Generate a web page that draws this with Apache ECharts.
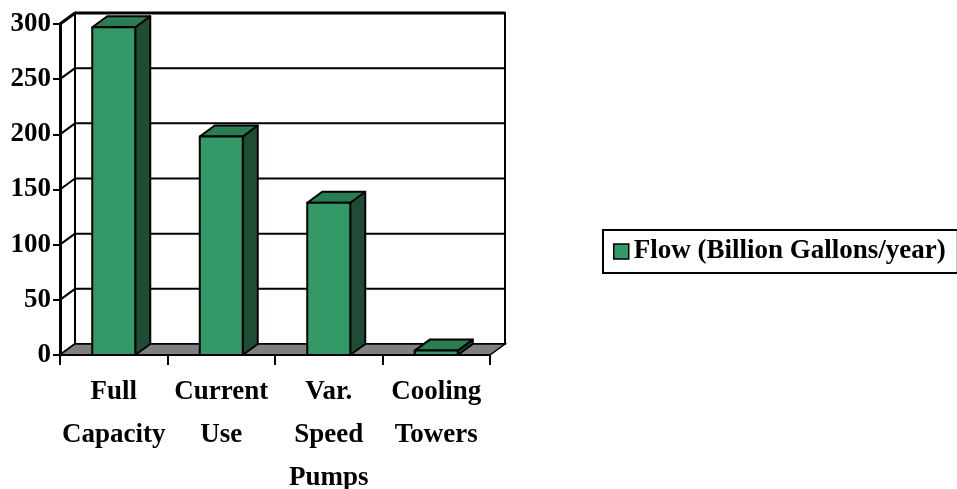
<!DOCTYPE html>
<html>
<head>
<meta charset="utf-8">
<script src="https://cdn.jsdelivr.net/npm/echarts@6/dist/echarts.min.js"></script>
<style>
html,body{margin:0;padding:0;background:#fff;}
#chart{width:957px;height:489px;}
</style>
</head>
<body>
<div id="chart"></div>
<script>
var categories = ['Full\nCapacity', 'Current\nUse', 'Var.\nSpeed\nPumps', 'Cooling\nTowers'];
var flowValues = [297, 198, 138, 4];
var seriesName = 'Flow (Billion Gallons/year)';
var yTicks = [0, 50, 100, 150, 200, 250, 300];

var DX = 15, DY = -11;
var FRONT = '#339966', TOP = '#2a7d53', SIDE = '#1f4d34';
var FONT = '"Liberation Serif", "Times New Roman", serif';

var chart = echarts.init(document.getElementById('chart'));

function frameRender(params, api) {
  var cs = params.coordSys;
  var x0 = cs.x, x1 = cs.x + cs.width;
  var yb = api.coord([0, 0])[1];
  var yt = api.coord([0, yTicks[yTicks.length - 1]])[1];
  var children = [];
  children.push({type: 'rect', shape: {x: x0 + DX, y: yt + DY, width: x1 - x0, height: yb - yt},
    style: {fill: '#fff', stroke: '#000', lineWidth: 2}});
  children.push({type: 'polygon', shape: {points: [[x0, yt], [x0 + DX, yt + DY], [x0 + DX, yb + DY], [x0, yb]]},
    style: {fill: '#fff', stroke: '#000', lineWidth: 2}});
  for (var k = 0; k < yTicks.length; k++) {
    var y = api.coord([0, yTicks[k]])[1];
    var lw = (k === yTicks.length - 1) ? 3 : 2;
    children.push({type: 'line', shape: {x1: x0, y1: y, x2: x0 + DX, y2: y + DY}, style: {stroke: '#000', lineWidth: lw}});
    children.push({type: 'line', shape: {x1: x0 + DX, y1: y + DY, x2: x1 + DX, y2: y + DY}, style: {stroke: '#000', lineWidth: lw}});
  }
  children.push({type: 'polygon', shape: {points: [[x0, yb], [x1, yb], [x1 + DX, yb + DY], [x0 + DX, yb + DY]]},
    style: {fill: '#808080', stroke: '#000', lineWidth: 1.5}});
  return {type: 'group', children: children};
}

function barRender(params, api) {
  var i = api.value(0), v = api.value(1);
  var t = api.coord([i, v]);
  var b = api.coord([i, 0]);
  var w = api.size([1, 0])[0] * 0.4;
  var xl = t[0] - w / 2, xr = t[0] + w / 2, yt = t[1], yb = b[1];
  var st = {stroke: '#000', lineWidth: 2, lineJoin: 'round'};
  return {type: 'group', children: [
    {type: 'polygon', shape: {points: [[xr, yt], [xr + DX, yt + DY], [xr + DX, yb + DY], [xr, yb]]},
      style: Object.assign({fill: SIDE}, st)},
    {type: 'polygon', shape: {points: [[xl, yt], [xl + DX, yt + DY], [xr + DX, yt + DY], [xr, yt]]},
      style: Object.assign({fill: TOP}, st)},
    {type: 'rect', shape: {x: xl, y: yt, width: w, height: yb - yt},
      style: Object.assign({fill: FRONT}, st)}
  ]};
}

var option = {
  animation: false,
  backgroundColor: '#fff',
  grid: {left: 60, right: 467, top: 24, bottom: 134, containLabel: false, outerBoundsMode: 'none'},
  xAxis: {
    type: 'category',
    data: categories,
    z: 5,
    axisLine: {show: true, lineStyle: {color: '#000', width: 2}},
    axisTick: {show: true, length: 10, alignWithLabel: false, lineStyle: {color: '#000', width: 2}},
    axisLabel: {interval: 0, margin: 16, color: '#000', fontFamily: FONT, fontWeight: 'bold', fontSize: 27, lineHeight: 43},
    splitLine: {show: false}
  },
  yAxis: {
    type: 'value',
    min: 0, max: 300, interval: 50,
    z: 5,
    axisLine: {show: true, lineStyle: {color: '#000', width: 3}},
    axisTick: {show: true, length: 7, lineStyle: {color: '#000', width: 2}},
    axisLabel: {margin: 9, color: '#000', fontFamily: FONT, fontWeight: 'bold', fontSize: 27},
    splitLine: {show: false}
  },
  legend: {
    data: [{name: seriesName, icon: 'rect', itemStyle: {color: FRONT, borderColor: '#000', borderWidth: 1.5}}],
    left: 603, top: 230,
    orient: 'vertical',
    itemWidth: 15, itemHeight: 15,
    padding: [8, 12, 8, 10],
    borderColor: '#000', borderWidth: 2,
    backgroundColor: '#fff',
    textStyle: {color: '#000', fontFamily: FONT, fontWeight: 'bold', fontSize: 27}
  },
  series: [
    {
      type: 'custom', name: 'frame', z: 1, silent: true,
      renderItem: frameRender,
      data: [[0, 0]],
      encode: {x: 0, y: 1}
    },
    {
      type: 'custom', name: seriesName, z: 2,
      itemStyle: {color: FRONT},
      renderItem: barRender,
      data: flowValues.map(function (v, i) { return [i, v]; }),
      encode: {x: 0, y: 1}
    }
  ]
};
chart.setOption(option);
</script>
</body>
</html>
